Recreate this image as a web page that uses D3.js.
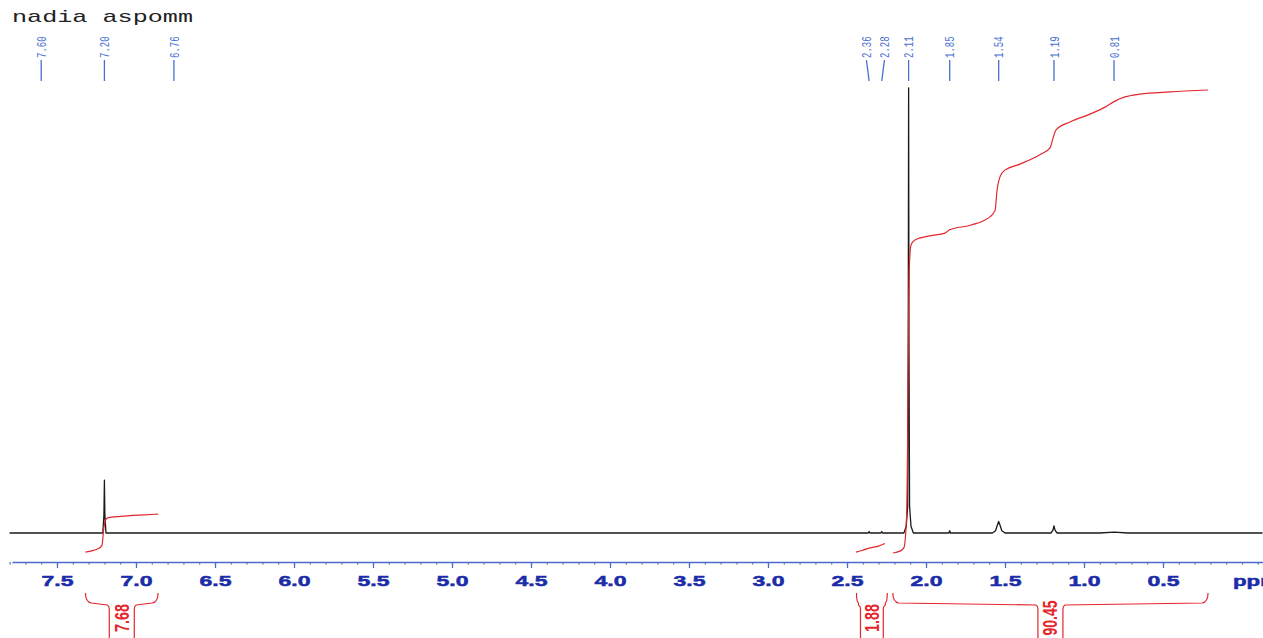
<!DOCTYPE html>
<html>
<head>
<meta charset="utf-8">
<script src="https://cdn.jsdelivr.net/npm/d3@7/dist/d3.min.js"></script>
<style>
  html, body { margin: 0; padding: 0; background: #fff; }
  svg { display: block; }
</style>
</head>
<body>
<svg id="chart" width="1263" height="638"></svg>
<script>
// ---------------- data ----------------
const title = "nadia aspomm";

// spectrum trace: chemical shift (ppm) and relative intensity (tallest peak = 100)
const spectrumPpm = [7.80, 7.21, 7.203, 7.20, 7.197, 7.19,
  2.38, 2.365, 2.36, 2.355, 2.30, 2.285, 2.28, 2.275,
  2.14, 2.125, 2.116, 2.1125, 2.11, 2.1075, 2.104, 2.095, 2.08,
  1.87, 1.855, 1.85, 1.845, 1.83,
  1.58, 1.56, 1.548, 1.54, 1.532, 1.52, 1.50,
  1.21, 1.197, 1.19, 1.183, 1.17,
  0.90, 0.81, 0.72, -0.13];
const spectrumIntensity = [0, 0, 4, 11.9, 4, 0,
  0, 0, 0.35, 0, 0, 0, 0.35, 0,
  0, 1.5, 6, 40, 100, 40, 6, 1.5, 0,
  0, 0, 0.5, 0, 0,
  0, 0.5, 1.8, 2.6, 1.8, 0.5, 0,
  0, 0.6, 1.6, 0.6, 0,
  0, 0.2, 0, 0];

// integral curves (ppm, cumulative integral in % of full height)
const integral1Ppm = [7.32, 7.24, 7.215, 7.205, 7.195, 7.18, 7.10, 6.975, 6.86];
const integral1Val = [0.2, 0.9, 1.7, 5.0, 6.9, 7.6, 7.9, 8.2, 8.4];
const integral2Ppm = [2.443, 2.40, 2.354, 2.30, 2.26];
const integral2Val = [0.2, 0.6, 1.1, 1.5, 2.05];
const integral3Ppm = [2.209, 2.165, 2.14, 2.124, 2.117, 2.111, 2.104, 2.095, 2.07, 1.975, 1.88, 1.85,
  1.72, 1.595, 1.563, 1.55, 1.53, 1.50, 1.405, 1.28, 1.215, 1.196, 1.177, 1.089, 0.962, 0.867,
  0.804, 0.74, 0.646, 0.456, 0.215];
const integral3Val = [0, 0.4, 1.1, 7, 22, 50, 63, 66.5, 67.6, 68.5, 69.1, 69.8,
  70.8, 72.6, 74, 78.4, 81.4, 82.7, 84, 86, 87.5, 89.6, 91.4, 93.1, 94.8, 96.3,
  97.6, 98.5, 99.1, 99.6, 100];

// integral ranges and values
const integralStart = [7.32, 2.44, 2.21];
const integralEnd = [6.86, 2.245, 0.215];
const integralLabels = ["7.68", "1.88", "90.45"];

// peak picking labels
const peakPpm = [7.60, 7.20, 6.76, 2.36, 2.28, 2.11, 1.85, 1.54, 1.19, 0.81];

// axis ticks
const majorTicks = [7.5, 7.0, 6.5, 6.0, 5.5, 5.0, 4.5, 4.0, 3.5, 3.0, 2.5, 2.0, 1.5, 1.0, 0.5];
const minorTicks = d3.range(78, -2, -1).map(d => d / 10);
const axisUnit = "ppm";

// ---------------- drawing ----------------
(function () {
const svg = d3.select("#chart");
const W = 1263, H = 638;

const x = d3.scaleLinear().domain([0, 7.5]).range([1242, 57]);
const ySpec = d3.scaleLinear().domain([0, 100]).range([533, 88]);
const yInt = d3.scaleLinear().domain([0, 100]).range([553, 90]);

const red = "#e3262c";
const blueTop = "#4a6fd0";
const blueAxis = "#4a6cc4";
const blueText = "#1b2ca8";

// title
svg.append("text")
  .attr("x", 12).attr("y", 22)
  .attr("font-family", "'Courier New', 'Liberation Mono', monospace")
  .attr("font-size", 17)
  .attr("textLength", 181)
  .attr("lengthAdjust", "spacingAndGlyphs")
  .attr("fill", "#222")
  .text(title);

// peak labels with spreading
const labelPos = peakPpm.map(p => ({ p, px: x(p), lx: x(p) }));
labelPos.sort((a, b) => a.px - b.px);
const minGap = 18;
for (let i = 0; i < labelPos.length - 1; i++) {
  const a = labelPos[i], b = labelPos[i + 1];
  if (b.lx - a.lx < minGap) {
    const mid = (a.lx + b.lx) / 2;
    a.lx = mid - minGap / 2; b.lx = mid + minGap / 2;
  }
}
const pk = svg.append("g");
pk.selectAll("line").data(labelPos).join("line")
  .attr("x1", d => d.lx).attr("y1", 60)
  .attr("x2", d => d.px).attr("y2", 81)
  .attr("stroke", blueTop).attr("stroke-width", 1.3);
pk.selectAll("text").data(labelPos).join("text")
  .attr("transform", d => `translate(${d.lx},58) scale(1.5,1) rotate(-90)`)
  .attr("dy", "0.35em")
  .attr("font-family", "'Liberation Mono', monospace")
  .attr("font-size", 9)
  .attr("fill", blueTop)
  .text(d => d.p.toFixed(2));

// spectrum
const spectrum = spectrumPpm.map((p, i) => [p, spectrumIntensity[i]]);
svg.append("path")
  .datum(spectrum)
  .attr("d", d3.line().x(d => x(d[0])).y(d => ySpec(d[1])))
  .attr("fill", "none")
  .attr("stroke", "#1a1a1a")
  .attr("stroke-width", 1.3)
  .attr("stroke-linejoin", "round");

// integral curves
const integrals = [
  integral1Ppm.map((p, i) => [p, integral1Val[i]]),
  integral2Ppm.map((p, i) => [p, integral2Val[i]]),
  integral3Ppm.map((p, i) => [p, integral3Val[i]])
];
svg.append("g").selectAll("path").data(integrals).join("path")
  .attr("d", d3.line().x(d => x(d[0])).y(d => yInt(d[1])).curve(d3.curveMonotoneX))
  .attr("fill", "none")
  .attr("stroke", red)
  .attr("stroke-width", 1.2);

// axis
const xa = d3.scaleLinear().domain([x.invert(12), x.invert(1263)]).range([12, 1263]);
const axisY = 562;
const gMinor = svg.append("g").attr("transform", `translate(0,${axisY})`)
  .call(d3.axisBottom(xa).tickValues(minorTicks).tickSize(2.5).tickSizeOuter(0).tickFormat(""));
gMinor.select(".domain").attr("stroke", blueAxis).attr("stroke-width", 1.3);
gMinor.selectAll(".tick line").attr("stroke", blueAxis).attr("stroke-width", 1.2);

const gMajor = svg.append("g").attr("transform", `translate(0,${axisY})`)
  .call(d3.axisBottom(xa).tickValues(majorTicks).tickSize(6).tickSizeOuter(0).tickFormat(d3.format(".1f")));
gMajor.select(".domain").remove();
gMajor.selectAll(".tick line").attr("stroke", blueAxis).attr("stroke-width", 1.3);
gMajor.selectAll(".tick text")
  .attr("y", 24).attr("dy", 0)
  .attr("font-family", "'Liberation Sans', Arial, sans-serif")
  .attr("font-weight", "bold")
  .attr("font-size", 15)
  .attr("fill", blueText)
  .attr("stroke", blueText)
  .attr("stroke-width", 0.5)
  .attr("textLength", 32)
  .attr("lengthAdjust", "spacingAndGlyphs");

svg.append("text")
  .attr("x", x(0) - 9).attr("y", axisY + 24)
  .attr("font-family", "'Liberation Sans', Arial, sans-serif")
  .attr("font-weight", "bold")
  .attr("font-size", 15)
  .attr("fill", blueText)
  .attr("stroke", blueText)
  .attr("stroke-width", 0.5)
  .attr("textLength", 47)
  .attr("lengthAdjust", "spacingAndGlyphs")
  .text(axisUnit);

// integral brackets and values
const brackets = integralStart.map((s, i) => {
  const l = x(s), r = x(integralEnd[i]);
  const cx = (l + r) / 2;
  const half = Math.min(12.5, (r - l) / 2 - 4);
  return { l, r, cx, half, label: integralLabels[i] };
});
const bTop = 593, bInner = 605;
const bg = svg.append("g");
bg.selectAll("path.left").data(brackets).join("path")
  .attr("class", "left")
  .attr("d", d => {
    const k = Math.min(6, (d.cx - d.half - d.l) / 2);
    return `M${d.l},${bTop} Q${d.l},${bInner - 3} ${d.l + k},${bInner - 2} L${d.cx - d.half - 2},${bInner} Q${d.cx - d.half},${bInner + 1} ${d.cx - d.half},${bInner + 4} L${d.cx - d.half},${H + 2}`;
  })
  .attr("fill", "none").attr("stroke", red).attr("stroke-width", 1.2);
bg.selectAll("path.right").data(brackets).join("path")
  .attr("class", "right")
  .attr("d", d => {
    const k = Math.min(6, (d.r - d.cx - d.half) / 2);
    return `M${d.r},${bTop} Q${d.r},${bInner - 3} ${d.r - k},${bInner - 2} L${d.cx + d.half + 2},${bInner} Q${d.cx + d.half},${bInner + 1} ${d.cx + d.half},${bInner + 4} L${d.cx + d.half},${H + 2}`;
  })
  .attr("fill", "none").attr("stroke", red).attr("stroke-width", 1.2);
bg.selectAll("text").data(brackets).join("text")
  .attr("transform", d => `translate(${d.cx},${618}) scale(1.3,1) rotate(-90)`)
  .attr("text-anchor", "middle")
  .attr("dy", "0.36em")
  .attr("font-family", "'Liberation Sans Narrow', 'Arial Narrow', 'Liberation Sans', sans-serif")
  .attr("font-weight", "bold")
  .attr("font-size", 15)
  .attr("fill", red)
  .attr("textLength", d => d.label.length * 7)
  .attr("lengthAdjust", "spacingAndGlyphs")
  .text(d => d.label);
})();
</script>
</body>
</html>
